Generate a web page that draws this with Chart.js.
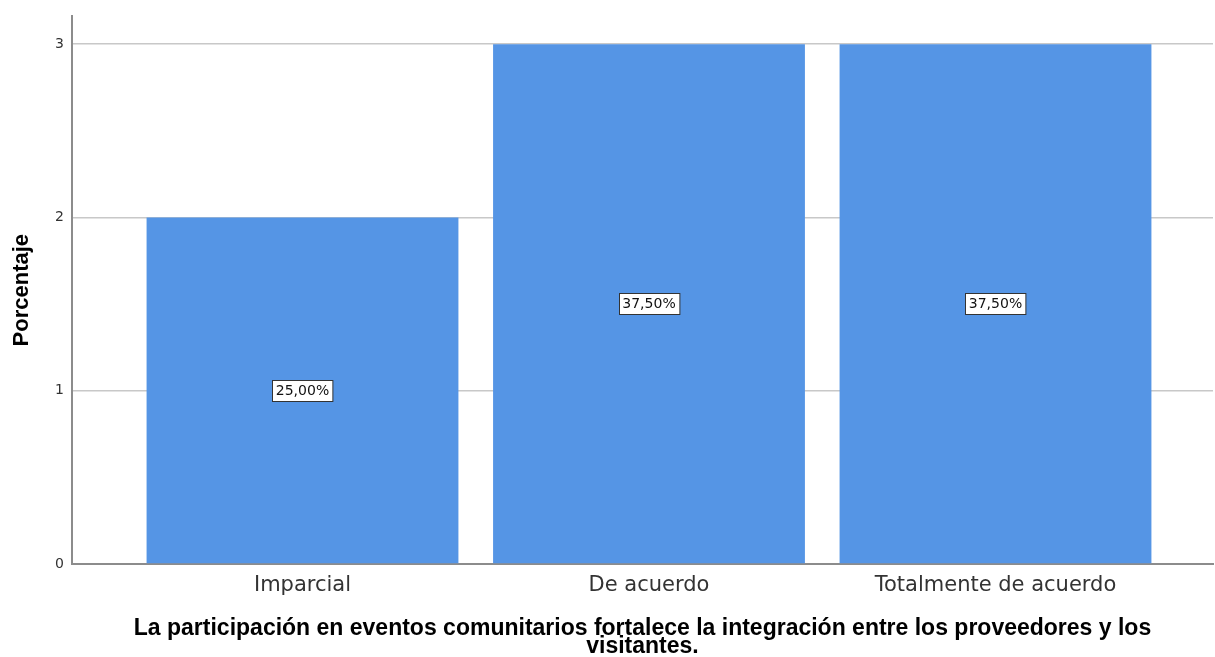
<!DOCTYPE html>
<html>
<head>
<meta charset="utf-8">
<script src="https://cdn.jsdelivr.net/npm/chart.js@4"></script>
<style>
  html,body{margin:0;padding:0;background:#fff}
  #wrap{width:1215px;height:657px}
</style>
</head>
<body>
<div id="wrap"><canvas id="ch"></canvas></div>
<script>
// data
const categories = ['Imparcial', 'De acuerdo', 'Totalmente de acuerdo'];
const counts = [2, 3, 3];
const pctLabels = ['25,00%', '37,50%', '37,50%'];
const yTicks = [0, 1, 2, 3];
const xTitle = ['La participación en eventos comunitarios fortalece la integración entre los proveedores y los', 'visitantes.'];
const yTitle = 'Porcentaje';

const BAR = '#5595e5';
const GRID = '#c8c8c8';
const AXIS = '#8c8c8c';

// boxed % label in middle of each bar
const boxLabels = {
  id: 'boxLabels',
  afterDatasetsDraw(chart) {
    const ctx = chart.ctx;
    const meta = chart.getDatasetMeta(0);
    ctx.save();
    ctx.font = '14px "DejaVu Sans"';
    ctx.textAlign = 'center';
    ctx.textBaseline = 'middle';
    meta.data.forEach((el, i) => {
      const t = pctLabels[i];
      const cy = (el.y + el.base) / 2;
      const w = ctx.measureText(t).width + 7;
      const h = 21;
      const x0 = Math.round(el.x - w / 2) + 0.5, y0 = Math.round(cy - h / 2) + 0.5;
      ctx.fillStyle = '#fff';
      ctx.fillRect(x0, y0, w, h);
      ctx.strokeStyle = '#333';
      ctx.lineWidth = 1;
      ctx.strokeRect(x0, y0, w, h);
      ctx.fillStyle = '#111';
      ctx.fillText(t, el.x, cy + 1);
    });
    ctx.restore();
  }
};

const step = 346.5; // px between bar centres
new Chart(document.getElementById('ch'), {
  type: 'bar',
  data: {
    datasets: [{
      data: counts.map((v, i) => ({x: i, y: v})),
      backgroundColor: BAR,
      borderWidth: 0,
      barPercentage: 0.9,
      categoryPercentage: 1
    }]
  },
  options: {
    responsive: true,
    maintainAspectRatio: false,
    animation: false,
    layout: {padding: {top: 14, right: 2, bottom: 0, left: 0}},
    plugins: {legend: {display: false}, tooltip: {enabled: false}},
    scales: {
      x: {
        type: 'linear',
        offset: false,
        min: -(302.5 - 72) / step,
        max: (1213 - 302.5) / step,
        afterFit: s => { s.height = 93; },
        grid: {display: false, offset: false},
        border: {display: true, color: AXIS, width: 2},
        ticks: {
          stepSize: 1,
          includeBounds: false,
          autoSkip: false,
          maxRotation: 0,
          padding: 1,
          color: '#333',
          font: {family: '"DejaVu Sans"', size: 21},
          callback: v => Number.isInteger(v) && categories[v] !== undefined ? categories[v] : ''
        },
        title: {
          display: true,
          text: xTitle,
          color: '#000',
          font: {family: '"Liberation Sans"', size: 23, weight: 'bold', lineHeight: '18px'},
          padding: {top: 0, bottom: 1}
        }
      },
      y: {
        min: 0,
        max: 3.16,
        afterFit: s => { s.width = 72; },
        afterBuildTicks: s => { s.ticks = yTicks.map(v => ({value: v})); },
        grid: {
          drawTicks: false,
          lineWidth: 1.5,
          color: c => c.tick && c.tick.value === 0 ? 'rgba(0,0,0,0)' : GRID
        },
        border: {display: true, color: AXIS, width: 2},
        ticks: {
          padding: 8,
          color: '#333',
          font: {family: '"DejaVu Sans"', size: 14}
        },
        title: {
          display: true,
          text: yTitle,
          color: '#000',
          font: {family: '"Liberation Sans"', size: 22, weight: 'bold'},
          padding: {top: 8.8, bottom: 0}
        }
      }
    }
  },
  plugins: [boxLabels]
});
</script>
</body>
</html>
